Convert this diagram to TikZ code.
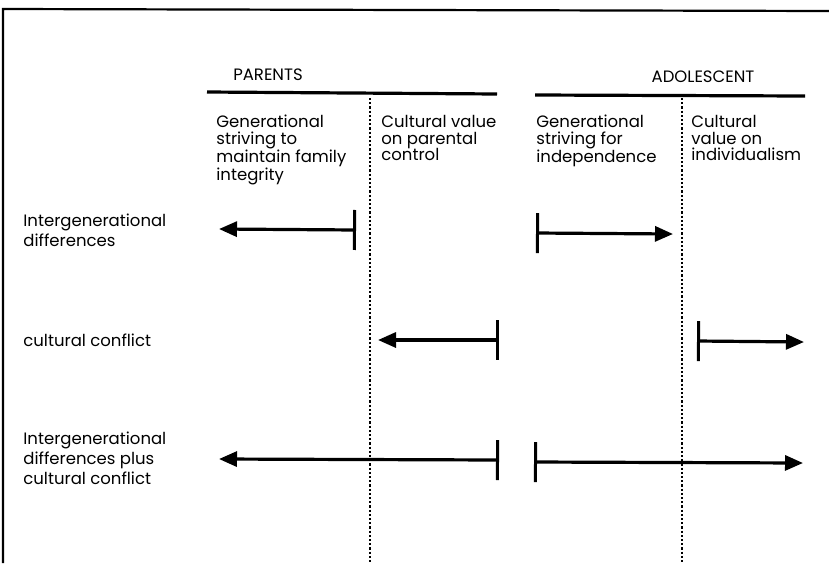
\documentclass[tikz,border=0pt]{standalone}
\usepackage{fontspec}
\setmainfont{Poppins}
\usepackage{tikz}
\usetikzlibrary{arrows.meta}

\begin{document}
\begin{tikzpicture}[x=1pt,y=-1pt,thick,
  head/.style={inner sep=0pt,font=\fontsize{16.5}{19}\selectfont},
  col text/.style={anchor=north west,inner sep=0pt,align=left,font=\fontsize{16.5}{16.5}\selectfont},
  row text/.style={anchor=north west,inner sep=0pt,align=left,font=\fontsize{16.5}{20}\selectfont},
  rule/.style={line width=3.2pt},
  divider/.style={line width=2.5pt,dash pattern=on 2.2pt off 2pt},
  push/.style={line width=3.2pt,{Bar[width=40pt,line width=3pt]}-{Triangle[length=18pt,width=15pt]}}]

  \useasboundingbox (0,0) rectangle (829,563);
  \draw[line width=2.2pt] (3,563) -- (3,9) -- (829,11);

  % headings
  \node[head] (parents) at (268,75) {PARENTS};
  \node[head] (adol) at (703,77) {ADOLESCENT};
  \coordinate (pa) at (207,92);  \coordinate (pb) at (497,94);
  \coordinate (aa) at (535,95);  \coordinate (ab) at (805,96);
  \draw[rule] (pa) -- (pb);
  \draw[rule] (aa) -- (ab);

  % column dividers
  \coordinate (d1a) at (370,98);  \coordinate (d1b) at (370,563);
  \coordinate (d2a) at (682,98);  \coordinate (d2b) at (682,563);
  \draw[divider] (d1a) -- (d1b);
  \draw[divider] (d2a) -- (d2b);

  % columns
  \node[col text] (gen par) at (216,115) {Generational\\striving to\\maintain family\\integrity};
  \node[col text] (cul par) at (381,115) {Cultural value\\on parental\\control};
  \node[col text] (gen ado) at (536,115) {Generational\\striving for\\independence};
  \node[col text] (cul ado) at (691,115) {Cultural\\value on\\individualism};

  % rows
  \node[row text] (inter) at (23,214) {Intergenerational\\differences};
  \node[row text] (conflict) at (23,333) {cultural conflict};
  \node[row text] (both) at (23,432) {Intergenerational\\differences plus\\cultural conflict};

  \coordinate (b1l) at (356,230);  \coordinate (t1l) at (219,229);
  \coordinate (b1r) at (536,233);  \coordinate (t1r) at (673,234);
  \coordinate (b2l) at (499,340);  \coordinate (t2l) at (378,340);
  \coordinate (b2r) at (697,341);  \coordinate (t2r) at (804,342);
  \coordinate (b3l) at (499,460);  \coordinate (t3l) at (219,459);
  \coordinate (b3r) at (534,462);  \coordinate (t3r) at (803,463);

  \draw[push] (b1l) -- (t1l);
  \draw[push] (b1r) -- (t1r);
  \draw[push] (b2l) -- (t2l);
  \draw[push] (b2r) -- (t2r);
  \draw[push] (b3l) -- (t3l);
  \draw[push] (b3r) -- (t3r);
\end{tikzpicture}
\end{document}
